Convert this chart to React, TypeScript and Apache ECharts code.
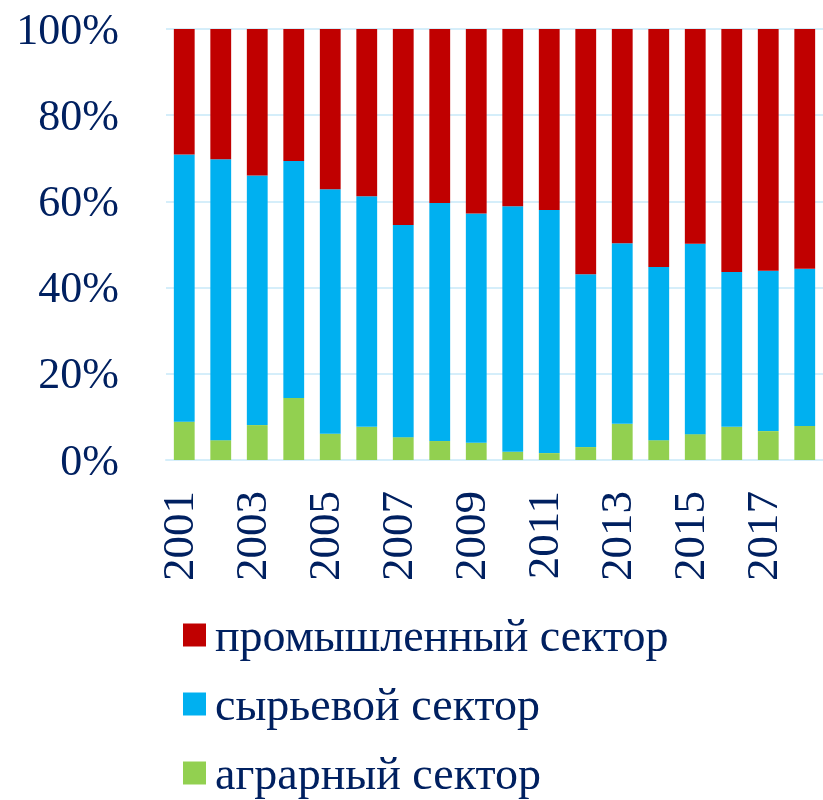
import React, { useEffect, useRef } from "react";
import * as echarts from "echarts";

const years = ["2001","2002","2003","2004","2005","2006","2007","2008","2009","2010","2011","2012","2013","2014","2015","2016","2017","2018"];
const agrarian = [8.9, 4.6, 8.1, 14.4, 6.1, 7.7, 5.3, 4.4, 4.0, 1.9, 1.6, 3.0, 8.4, 4.6, 6.0, 7.7, 6.7, 7.9];
const raw = [62.0, 65.2, 57.9, 55.0, 56.7, 53.5, 49.2, 55.2, 53.2, 57.0, 56.4, 40.1, 41.9, 40.2, 44.2, 35.9, 37.2, 36.5];
const industrial = [29.1, 30.2, 34.0, 30.6, 37.2, 38.8, 45.5, 40.4, 42.8, 41.1, 42.0, 56.9, 49.7, 55.2, 49.8, 56.4, 56.1, 55.6];
const names = ["промышленный сектор", "сырьевой сектор", "аграрный сектор"];

const TEXT = "#002060";
const FONT = "'Liberation Serif', 'Times New Roman', serif";

export default function App() {
  const ref = useRef<HTMLDivElement>(null);
  useEffect(() => {
    const chart = echarts.init(ref.current!, null, { renderer: "svg" });
    chart.setOption({
      animation: false,
      textStyle: { fontFamily: FONT, color: TEXT },
      grid: { left: 166, top: 29, bottom: 340, right: -9, containLabel: false },
      legend: {
        data: names,
        orient: "vertical",
        left: 183,
        top: 609,
        height: 191,
        padding: 0,
        itemWidth: 23,
        itemHeight: 23,
        itemGap: 17,
        icon: "rect",
        textStyle: { fontFamily: FONT, color: TEXT, fontSize: 46, lineHeight: 52, padding: [0, 0, 0, 4] },
      },
      xAxis: {
        type: "category",
        data: years,
        axisLine: { lineStyle: { color: "#D5EEFA", width: 2 } },
        axisTick: { show: false },
        axisLabel: {
          interval: 1,
          rotate: 90,
          margin: 31,
          fontSize: 45,
          fontFamily: FONT,
          color: TEXT,
          verticalAlign: "bottom",
          lineHeight: 12,
        },
      },
      yAxis: {
        type: "value",
        min: 0,
        max: 100,
        interval: 20,
        axisLine: { show: false },
        axisTick: { show: false },
        splitLine: { lineStyle: { color: "#D5EEFA", width: 2 } },
        axisLabel: {
          formatter: "{value}%",
          margin: 47,
          fontSize: 44,
          fontFamily: FONT,
          color: TEXT,
        },
      },
      series: [
        { name: names[2], type: "bar", stack: "s", data: agrarian, itemStyle: { color: "#92D050" }, barCategoryGap: "43%" },
        { name: names[1], type: "bar", stack: "s", data: raw, itemStyle: { color: "#00B0F0" } },
        { name: names[0], type: "bar", stack: "s", data: industrial, itemStyle: { color: "#C00000" } },
      ],
    });
    return () => chart.dispose();
  }, []);
  return <div ref={ref} style={{ position: "fixed", left: 0, top: 0, width: 823, height: 800 }} />;
}
